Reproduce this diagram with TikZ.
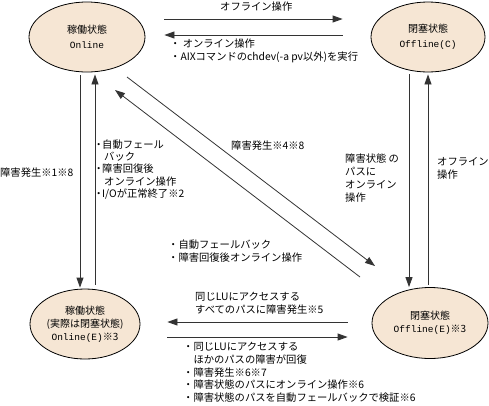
\documentclass[tikz,border=0pt]{standalone}
\usepackage{fontspec}
\setmainfont{Noto Sans CJK JP}
\newfontfamily\monofnt{Liberation Mono}
\usetikzlibrary{shapes.geometric,arrows.meta}
\definecolor{statefill}{HTML}{F6E6D4}
\newcommand{\hbul}{\makebox[7pt]{・}}
\tikzset{
  state/.style={ellipse, draw=black, line width=0.8pt, fill=statefill, inner sep=0pt,
    minimum width=116pt, minimum height=70pt, align=center,
    font=\fontsize{10}{15}\selectfont},
  conn/.style={draw=black!80, line width=0.8pt, -{Triangle[length=10pt,width=7pt]}},
  lbl/.style={inner sep=0pt, align=left, anchor=west, font=\fontsize{10.3}{12.8}\selectfont},
}
\begin{document}
\begin{tikzpicture}[x=1pt,y=-1pt]
\useasboundingbox (0,0) rectangle (489,405);
% states
\node[state] (on) at (87,37) {稼働状態\\{\monofnt\fontsize{9.5}{15}\selectfont Online}};
\node[state, minimum width=114pt] (offc) at (428,37) {閉塞状態\\{\monofnt\fontsize{9.5}{15}\selectfont Offline(C)}};
\node[state, minimum width=110pt, font=\fontsize{10}{13}\selectfont] (one) at (85,324) {稼働状態\\(実際は閉塞状態)\\{\monofnt\fontsize{9.5}{13}\selectfont Online(E)}※3};
\node[state, minimum height=71pt, font=\fontsize{10}{13}\selectfont] (offe) at (430,323) {閉塞状態\\{\monofnt\fontsize{9.5}{13}\selectfont Offline(E)}※3};
% top horizontal
\draw[conn] ([xshift=19pt,yshift=18pt]on.east) -- ([xshift=-28pt,yshift=18pt]offc.west);
\draw[conn] ([xshift=-28pt,yshift=2pt]offc.west) -- ([xshift=19pt,yshift=2pt]on.east);
% left vertical
\draw[conn] ([xshift=-7pt,yshift=-3pt]on.south) -- ([xshift=-5pt,yshift=1pt]one.north);
\draw[conn] ([xshift=10pt,yshift=4pt]one.north) -- ([xshift=8pt,yshift=-2pt]on.south);
% right vertical
\draw[conn] ([xshift=-19pt,yshift=-2pt]offc.south) -- ([xshift=-21pt,yshift=0pt]offe.north);
\draw[conn] ([xshift=-2pt,yshift=2.5pt]offe.north) -- ([xshift=0pt,yshift=-2pt]offc.south);
% diagonals
\draw[conn] ([xshift=40pt,yshift=-40pt]on.center) -- ([xshift=-55pt,yshift=57pt]offe.center);
\draw[conn] ([xshift=-70pt,yshift=46pt]offe.center) -- ([xshift=28pt,yshift=-53pt]on.center);
% bottom horizontal
\draw[conn] ([xshift=-24pt,yshift=1pt]offe.west) -- ([xshift=27pt,yshift=2pt]one.east);
\draw[conn] ([xshift=27pt,yshift=-13pt]one.east) -- ([xshift=-24pt,yshift=-14pt]offe.west);
% labels
\node[lbl] (l1) at (220,7) {オフライン操作};
\node[lbl] (l2) at (170,50.5) {・ オンライン操作\\・AIXコマンドのchdev(-a pv以外)を実行};
\node[lbl] (l3) at (0,173) {障害発生※1※8};
\node[lbl, font=\fontsize{10.3}{12.3}\selectfont] (l4) at (95,169.5) {\hbul 自動フェール\\\hspace{9pt}バック\\\hbul 障害回復後\\\hspace{9pt}オンライン操作\\\hbul I/Oが正常終了※2};
\node[lbl] (l5) at (231,146) {障害発生※4※8};
\node[lbl, font=\fontsize{10.3}{13}\selectfont] (l6) at (345,178.5) {障害状態 の\\パスに\\オンライン\\操作};
\node[lbl, font=\fontsize{10.3}{13}\selectfont] (l7) at (437,168.5) {オフライン\\操作};
\node[lbl, font=\fontsize{10.3}{13}\selectfont] (l8) at (168,251.5) {・自動フェールバック\\・障害回復後オンライン操作};
\node[lbl, font=\fontsize{10.3}{13}\selectfont] (l9) at (195,303.5) {同じLUにアクセスする\\すべてのパスに障害発生※5};
\node[lbl, font=\fontsize{10.3}{12.75}\selectfont] (l10) at (183,372.5) {・同じLUにアクセスする\\\hspace{10.3pt}ほかのパスの障害が回復\\・障害発生※6※7\\・障害状態のパスにオンライン操作※6\\・障害状態のパスを自動フェールバックで検証※6};
\end{tikzpicture}
\end{document}
